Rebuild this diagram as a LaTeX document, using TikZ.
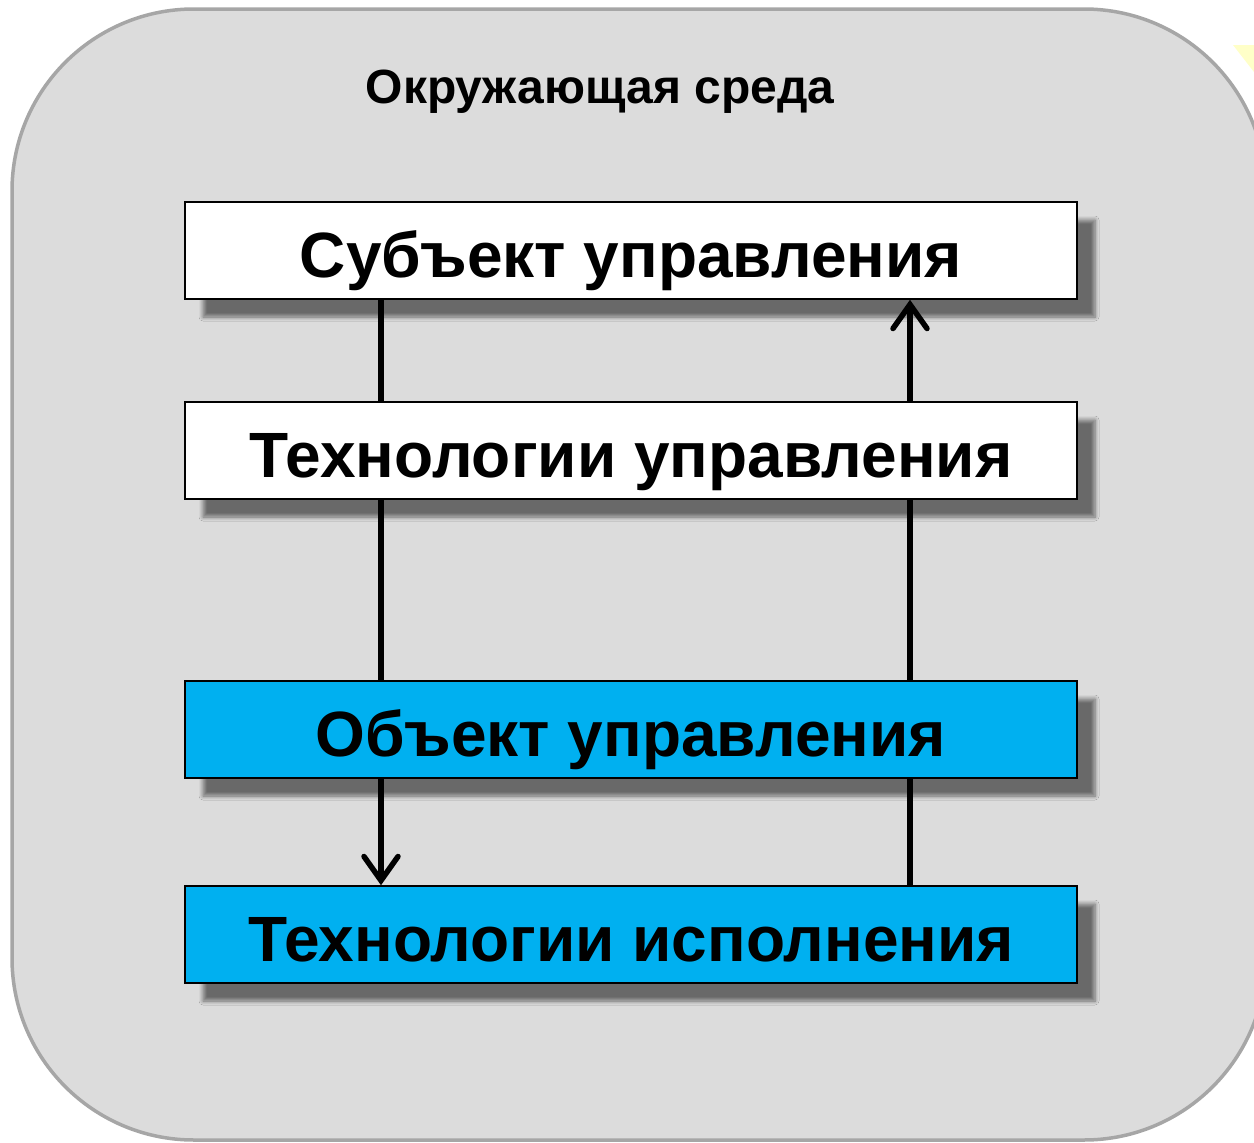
\documentclass[tikz,border=0pt]{standalone}
\usepackage{fontspec}
\setmainfont{Liberation Sans}
\usetikzlibrary{shadows.blur,arrows.meta}
\definecolor{envfill}{HTML}{DCDCDC}
\definecolor{envdraw}{HTML}{A6A6A6}
\definecolor{bluebox}{HTML}{00B0F0}
\definecolor{paleyellow}{HTML}{FFFFC8}
\begin{document}
\begin{tikzpicture}[x=1pt,y=-1pt,
  stagebox/.style={draw=black, line width=1.5pt, minimum width=892pt, minimum height=97pt,
    inner sep=0pt, text height=53pt, text depth=0pt,
    font=\fontsize{64}{64}\selectfont\bfseries,
    blur shadow={shadow xshift=18pt, shadow yshift=-18pt, shadow blur radius=4pt, shadow blur steps=6, shadow opacity=52}},
  conn/.style={line width=5.5pt},
  tip/.style={-{Straight Barb[length=24pt,width=34pt,line cap=round]}}]
\useasboundingbox (0,0) rectangle (1254,1143);
\fill[paleyellow] (1233,45) -- (1254,45) -- (1254,72) -- cycle;
\draw[fill=envfill, draw=envdraw, line width=3.5pt, rounded corners=182pt] (12,9) rectangle (1266,1140);
\node[font=\fontsize{48}{48}\selectfont\bfseries, anchor=base] (env) at (600,103) {Окружающая среда};
\node[stagebox, fill=white] (subj) at (631,250.5) {Субъект управления};
\node[stagebox, fill=white] (tech) at (631,450.5) {Технологии управления};
\node[stagebox, fill=bluebox] (obj) at (631,729.5) {Объект управления};
\node[stagebox, fill=bluebox] (exec) at (631,934.5) {Технологии исполнения};
% left line (downward)
\draw[conn] ([xshift=-250pt]subj.south) -- ([xshift=-250pt]tech.north);
\draw[conn] ([xshift=-250pt]tech.south) -- ([xshift=-250pt]obj.north);
\draw[conn,tip] ([xshift=-250pt]obj.south) -- ([xshift=-250pt]exec.north);
% right line (upward)
\draw[conn] ([xshift=279pt]exec.north) -- ([xshift=279pt]obj.south);
\draw[conn] ([xshift=279pt]obj.north) -- ([xshift=279pt]tech.south);
\draw[conn,tip] ([xshift=279pt]tech.north) -- ([xshift=279pt]subj.south);
\end{tikzpicture}
\end{document}
